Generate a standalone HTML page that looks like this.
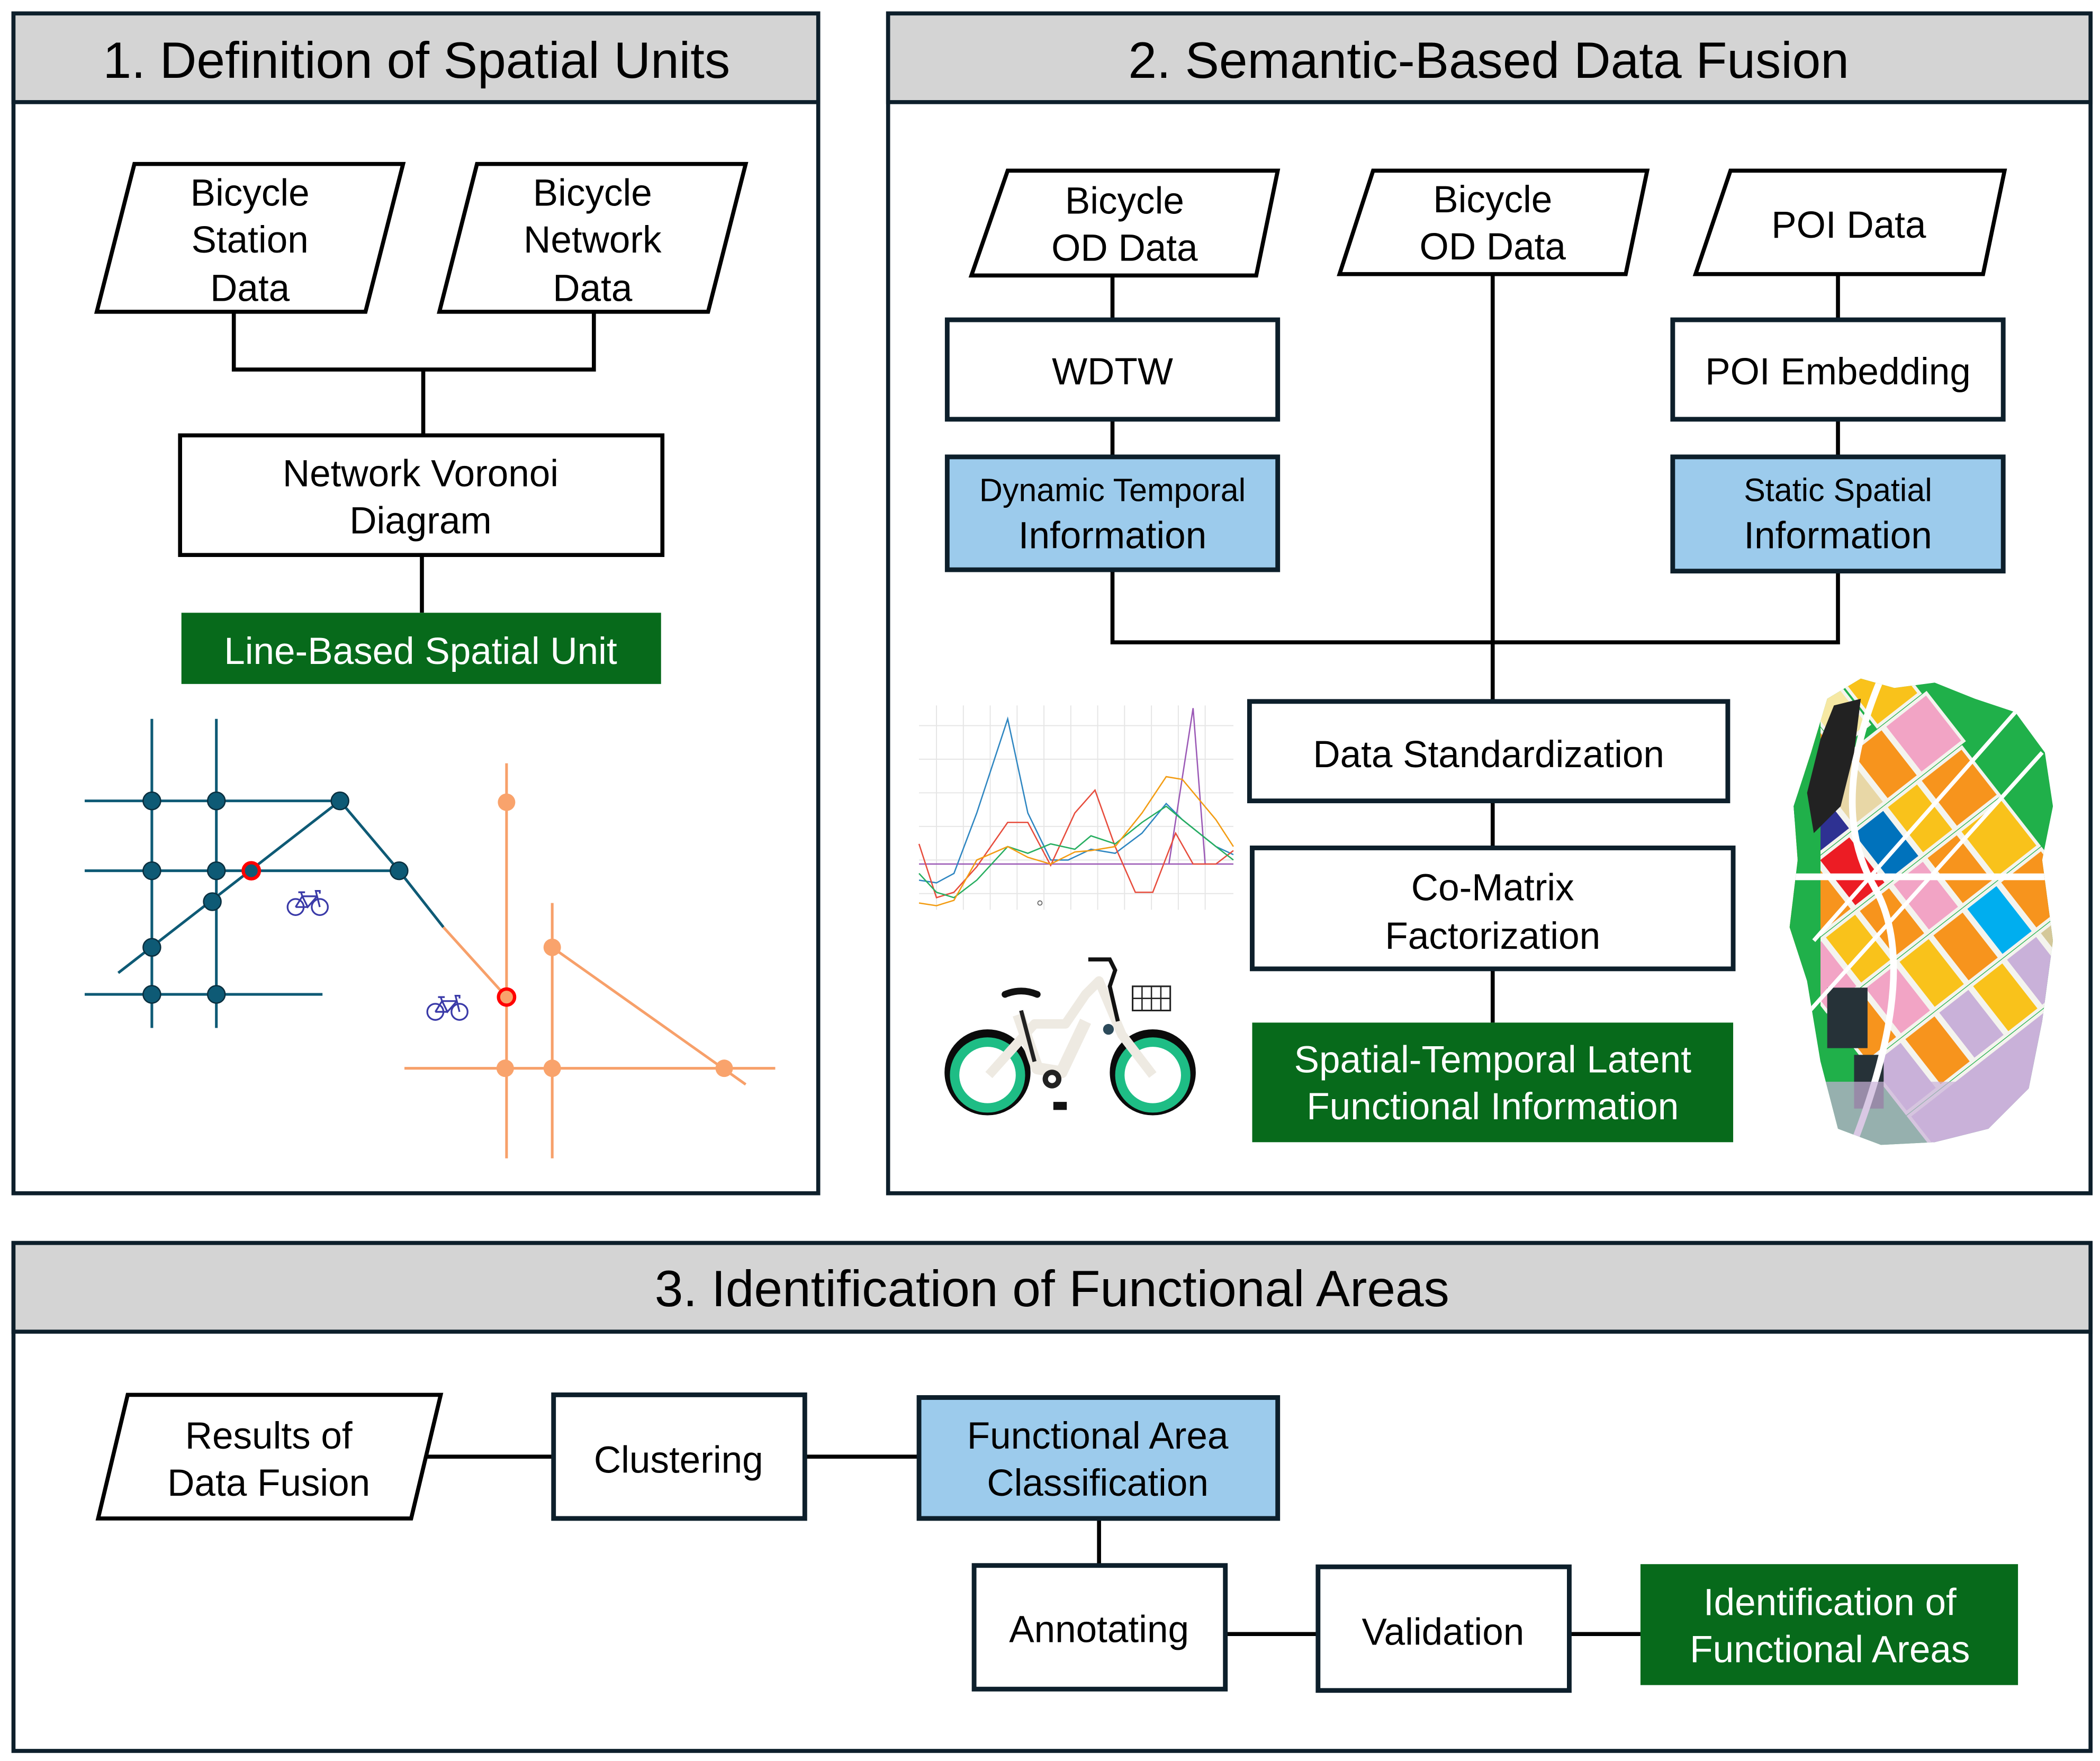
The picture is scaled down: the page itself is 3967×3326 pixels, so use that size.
<!DOCTYPE html>
<html><head><meta charset="utf-8"><style>
html,body{margin:0;padding:0;background:#fff;}
svg{display:block;}
text{font-family:"Liberation Sans","DejaVu Sans",sans-serif;fill:#000;}
</style></head><body>
<svg width="3967" height="3326" viewBox="0 0 1563 1310.5" xmlns="http://www.w3.org/2000/svg">
<defs>
<clipPath id="mapclip"><path d="M1360,520 L1385,505 L1410,512 L1440,508 L1470,520 L1500,530 L1522,560 L1528,600 L1520,640 L1528,700 L1520,760 L1510,810 L1480,840 L1440,850 L1400,852 L1368,840 L1355,790 L1345,730 L1332,690 L1338,640 L1335,600 L1348,560 Z"/></clipPath>
<g id="bk" fill="none" stroke="#3a3aa8" stroke-width="1.3">
<circle cx="-9" cy="4" r="6"/><circle cx="9" cy="4" r="6"/>
<path d="M-9,4 L-4,-4 L7,-4 L9,4 M-4,-4 L0,4 L7,-4 M0,4 L-9,4 M-4,-4 L-5,-7 M-7,-7 L-2,-7 M7,-4 L6,-8 L9,-8 L9,-6"/>
</g>
</defs>

<g stroke="#0d1f2b" stroke-width="3">
<rect x="10" y="10" width="599" height="878" fill="#fff"/>
<rect x="10" y="10" width="599" height="66" fill="#d4d4d4"/>
<rect x="661" y="10" width="895" height="878" fill="#fff"/>
<rect x="661" y="10" width="895" height="66" fill="#d4d4d4"/>
<rect x="10" y="925" width="1546" height="378" fill="#fff"/>
<rect x="10" y="925" width="1546" height="66" fill="#d4d4d4"/>
</g>
<g font-size="38" text-anchor="middle">
<text x="310" y="58">1. Definition of Spatial Units</text>
<text x="1108" y="58">2. Semantic-Based Data Fusion</text>
<text x="783" y="972">3. Identification of Functional Areas</text>
</g>

<g stroke="#000" stroke-width="3" fill="none">
<polygon points="100,122 300,122 272,232 72,232" fill="#fff"/>
<polygon points="355,122 555,122 527,232 327,232" fill="#fff"/>
<polyline points="174,232 174,275 442,275 442,232"/>
<line x1="315" y1="275" x2="315" y2="324"/>
<rect x="134" y="324" width="359" height="89" fill="#fff"/>
<line x1="314" y1="413" x2="314" y2="456"/>
</g>
<rect x="135" y="456" width="357" height="53" fill="#076a1b"/>
<g font-size="28" text-anchor="middle">
<text x="186" y="153">Bicycle</text><text x="186" y="188">Station</text><text x="186" y="224">Data</text>
<text x="441" y="153">Bicycle</text><text x="441" y="188">Network</text><text x="441" y="224">Data</text>
<text x="313" y="362">Network Voronoi</text><text x="313" y="397">Diagram</text>
<text x="313" y="494" style="fill:#fff">Line-Based Spatial Unit</text>
</g>

<g stroke="#0e5a75" stroke-width="2" fill="none">
<line x1="63" y1="596" x2="253" y2="596"/>
<line x1="63" y1="648" x2="297" y2="648"/>
<line x1="63" y1="740" x2="240" y2="740"/>
<line x1="113" y1="535" x2="113" y2="765"/>
<line x1="161" y1="535" x2="161" y2="765"/>
<line x1="88" y1="724" x2="253" y2="596"/>
<polyline points="253,596 297,648 330,690"/>
</g>
<g stroke="#f7a06a" stroke-width="2" fill="none">
<line x1="330" y1="690" x2="377" y2="742"/>
<line x1="377" y1="568" x2="377" y2="862"/>
<line x1="411" y1="672" x2="411" y2="862"/>
<line x1="301" y1="795" x2="577" y2="795"/>
<line x1="411" y1="705" x2="555" y2="807"/>
</g>
<g fill="#0e5a75" stroke="#0a2f3f" stroke-width="1">
<circle cx="113" cy="596" r="6.5"/><circle cx="161" cy="596" r="6.5"/><circle cx="253" cy="596" r="6.5"/>
<circle cx="113" cy="648" r="6.5"/><circle cx="161" cy="648" r="6.5"/><circle cx="297" cy="648" r="6.5"/>
<circle cx="158" cy="671" r="6.5"/><circle cx="113" cy="705" r="6.5"/>
<circle cx="113" cy="740" r="6.5"/><circle cx="161" cy="740" r="6.5"/>
</g>
<circle cx="187" cy="648" r="6" fill="#0e5a75" stroke="#ff0000" stroke-width="2.5"/>
<g fill="#f9a36c">
<circle cx="377" cy="597" r="6.5"/><circle cx="411" cy="705" r="6.5"/>
<circle cx="376" cy="795" r="6.5"/><circle cx="411" cy="795" r="6.5"/><circle cx="539" cy="795" r="6.5"/>
</g>
<circle cx="377" cy="742" r="6" fill="#f9a36c" stroke="#ff0000" stroke-width="2.5"/>
<use href="#bk" x="229" y="671"/>
<use href="#bk" x="333" y="749"/>

<g stroke="#000" stroke-width="3" fill="none">
<polygon points="750,127 951,127 935,205 723,205" fill="#fff"/>
<polygon points="1022,127 1226,127 1210,204 997,204" fill="#fff"/>
<polygon points="1288,127 1492,127 1476,204 1262,204" fill="#fff"/>
<line x1="828" y1="205" x2="828" y2="238"/>
<line x1="828" y1="312" x2="828" y2="340"/>
<line x1="1368" y1="204" x2="1368" y2="238"/>
<line x1="1368" y1="312" x2="1368" y2="340"/>
<polyline points="828,424 828,478 1368,478 1368,425"/>
<line x1="1111" y1="204" x2="1111" y2="522"/>
<line x1="1111" y1="596" x2="1111" y2="631"/>
<line x1="1111" y1="721" x2="1111" y2="761"/>
</g>
<g stroke="#0d1f2b" stroke-width="3.5">
<rect x="705" y="238" width="246" height="74" fill="#fff"/>
<rect x="1245" y="238" width="246" height="74" fill="#fff"/>
<rect x="705" y="340" width="246" height="84" fill="#9ccbec"/>
<rect x="1245" y="340" width="246" height="85" fill="#9ccbec"/>
<rect x="930" y="522" width="356" height="74" fill="#fff"/>
<rect x="932" y="631" width="358" height="90" fill="#fff"/>
</g>
<rect x="932" y="761" width="358" height="89" fill="#076a1b"/>
<g font-size="28" text-anchor="middle">
<text x="837" y="159">Bicycle</text><text x="837" y="194">OD Data</text>
<text x="1111" y="158">Bicycle</text><text x="1111" y="193">OD Data</text>
<text x="1376" y="177">POI Data</text>
<text x="828" y="286">WDTW</text>
<text x="1368" y="286">POI Embedding</text>
<text x="828" y="373" font-size="24">Dynamic Temporal</text><text x="828" y="408">Information</text>
<text x="1368" y="373" font-size="24">Static Spatial</text><text x="1368" y="408">Information</text>
<text x="1108" y="571">Data Standardization</text>
<text x="1111" y="670">Co-Matrix</text><text x="1111" y="706">Factorization</text>
<text x="1111" y="798" style="fill:#fff">Spatial-Temporal Latent</text>
<text x="1111" y="833" style="fill:#fff">Functional Information</text>
</g>

<g stroke="#e6e6e6" stroke-width="0.8">
<line x1="684" y1="540" x2="918" y2="540"/><line x1="684" y1="565" x2="918" y2="565"/>
<line x1="684" y1="590" x2="918" y2="590"/><line x1="684" y1="615" x2="918" y2="615"/>
<line x1="684" y1="640" x2="918" y2="640"/><line x1="684" y1="665" x2="918" y2="665"/>
<line x1="697" y1="525" x2="697" y2="677"/><line x1="717" y1="525" x2="717" y2="677"/>
<line x1="737" y1="525" x2="737" y2="677"/><line x1="757" y1="525" x2="757" y2="677"/>
<line x1="777" y1="525" x2="777" y2="677"/><line x1="797" y1="525" x2="797" y2="677"/>
<line x1="817" y1="525" x2="817" y2="677"/><line x1="837" y1="525" x2="837" y2="677"/>
<line x1="857" y1="525" x2="857" y2="677"/><line x1="877" y1="525" x2="877" y2="677"/>
<line x1="897" y1="525" x2="897" y2="677"/>
</g>
<g fill="none" stroke-width="1">
<polyline stroke="#9b59b6" points="684,643 918,643"/>
<polyline stroke="#9b59b6" points="870,643 888,527 897,643"/>
<polyline stroke="#2e86c1" points="684,655 697,657 710,650 727,605 750,535 765,605 782,640 795,640 812,632 830,635 850,620 868,598 880,610 905,630 918,636"/>
<polyline stroke="#e74c3c" points="684,628 697,668 710,664 727,645 750,612 765,612 782,644 800,605 815,588 830,630 845,664 858,664 875,620 888,643 905,643 918,633"/>
<polyline stroke="#27ae60" points="684,650 697,664 710,668 727,655 750,630 765,635 782,628 800,632 812,622 830,628 850,612 868,600 880,610 905,630 918,640"/>
<polyline stroke="#f39c12" points="684,672 697,674 710,670 727,640 750,630 765,638 782,643 800,634 812,633 830,630 850,605 868,578 880,580 905,610 918,630"/>
</g>
<circle cx="774" cy="672" r="1.6" fill="none" stroke="#666" stroke-width="0.7"/>

<g>
<circle cx="735" cy="798" r="32" fill="#0b0b0b"/><circle cx="735" cy="800" r="28" fill="#1ebd85"/><circle cx="735" cy="800" r="21" fill="#fff"/>
<circle cx="858" cy="798" r="32" fill="#0b0b0b"/><circle cx="858" cy="800" r="28" fill="#1ebd85"/><circle cx="858" cy="800" r="21" fill="#fff"/>
<path d="M736,800 L770,762 L793,762 L808,740 L818,730 L835,770 L858,800" fill="none" stroke="#eeeae2" stroke-width="7" stroke-linejoin="round"/>
<path d="M758,755 L772,795 L790,798 L808,760" fill="none" stroke="#eeeae2" stroke-width="9" stroke-linejoin="round"/>
<path d="M760,752 L770,790" stroke="#222" stroke-width="3"/>
<path d="M748,740 Q760,735 772,740" stroke="#111" stroke-width="5" fill="none" stroke-linecap="round"/>
<path d="M810,714 L826,714 L830,722 L826,734 L832,760" stroke="#111" stroke-width="3" fill="none"/>
<rect x="843" y="734" width="28" height="18" fill="none" stroke="#222" stroke-width="1.2"/>
<path d="M850,734 V752 M857,734 V752 M864,734 V752 M843,743 H871" stroke="#222" stroke-width="1"/>
<circle cx="783" cy="803" r="7" fill="#222"/><circle cx="783" cy="803" r="3" fill="#fff"/>
<rect x="784" y="820" width="10" height="6" fill="#111"/>
<circle cx="825" cy="766" r="4" fill="#2c4a5a"/>
</g>

<g clip-path="url(#mapclip)">
<rect x="1325" y="500" width="210" height="360" fill="#20b04a"/>
<g transform="rotate(-38 1430 680)" stroke="#f4f4ee" stroke-width="2.5">
<rect x="1330" y="500" width="28" height="50" fill="#f9c21b"/><rect x="1360" y="500" width="30" height="45" fill="#f7941d"/>
<rect x="1392" y="505" width="30" height="40" fill="#f9c21b"/><rect x="1425" y="500" width="30" height="48" fill="#f7941d"/>
<rect x="1458" y="505" width="28" height="40" fill="#f6e8a3"/><rect x="1490" y="500" width="40" height="50" fill="#f9c21b"/>
<rect x="1330" y="553" width="30" height="45" fill="#f7941d"/><rect x="1362" y="553" width="34" height="45" fill="#f9c21b"/>
<rect x="1398" y="553" width="30" height="45" fill="#2e3192"/><rect x="1430" y="553" width="30" height="45" fill="#e8d7a6"/>
<rect x="1462" y="553" width="30" height="45" fill="#f7941d"/><rect x="1494" y="553" width="40" height="45" fill="#f2a4c5"/>
<rect x="1330" y="601" width="30" height="45" fill="#f9c21b"/><rect x="1362" y="601" width="30" height="45" fill="#f7941d"/>
<rect x="1394" y="601" width="30" height="45" fill="#ec1c24"/><rect x="1426" y="601" width="30" height="45" fill="#0072bc"/>
<rect x="1458" y="601" width="30" height="45" fill="#f9c21b"/><rect x="1490" y="601" width="40" height="45" fill="#f7941d"/>
<rect x="1330" y="649" width="30" height="45" fill="#f2a4c5"/><rect x="1362" y="649" width="30" height="45" fill="#f9c21b"/>
<rect x="1394" y="649" width="30" height="45" fill="#f7941d"/><rect x="1426" y="649" width="30" height="45" fill="#f2a4c5"/>
<rect x="1458" y="649" width="30" height="45" fill="#f7941d"/><rect x="1490" y="649" width="40" height="45" fill="#f9c21b"/>
<rect x="1330" y="697" width="30" height="45" fill="#f7941d"/><rect x="1362" y="697" width="30" height="45" fill="#f2a4c5"/>
<rect x="1394" y="697" width="30" height="45" fill="#f9c21b"/><rect x="1426" y="697" width="30" height="45" fill="#f7941d"/>
<rect x="1458" y="697" width="30" height="45" fill="#00aeef"/><rect x="1490" y="697" width="40" height="45" fill="#f7941d"/>
<rect x="1330" y="745" width="30" height="45" fill="#c9b1d9"/><rect x="1362" y="745" width="30" height="45" fill="#f7941d"/>
<rect x="1394" y="745" width="30" height="45" fill="#c9b1d9"/><rect x="1426" y="745" width="30" height="45" fill="#f9c21b"/>
<rect x="1458" y="745" width="30" height="45" fill="#c9b1d9"/><rect x="1490" y="745" width="40" height="45" fill="#d4c89a"/>
<rect x="1330" y="793" width="200" height="80" fill="#c9b1d9"/>
</g>
<rect x="1325" y="500" width="30" height="360" fill="#20b04a"/>
<path d="M1365,525 L1385,520 L1380,560 L1370,600 L1350,620 L1345,590 L1355,550 Z" fill="#222"/>
<rect x="1360" y="735" width="30" height="45" fill="#263238"/>
<rect x="1380" y="785" width="22" height="40" fill="#263238"/>
<rect x="1330" y="650" width="200" height="5" fill="#fff"/>
<path d="M1400,505 Q1360,600 1395,660 Q1430,720 1380,850" stroke="#fff" stroke-width="5" fill="none"/>
<path d="M1340,760 L1520,560 M1350,700 L1500,530" stroke="#fff" stroke-width="3" fill="none"/>
<rect x="1330" y="805" width="200" height="60" fill="#c9b1d9" opacity="0.7"/>
</g>

<g stroke="#000" stroke-width="3" fill="none">
<polygon points="95,1038 328,1038 306,1130 73,1130" fill="#fff"/>
<line x1="316" y1="1084" x2="412" y2="1084"/>
<line x1="599" y1="1084" x2="684" y2="1084"/>
<line x1="818" y1="1130" x2="818" y2="1165"/>
<line x1="912" y1="1216" x2="981" y2="1216"/>
<line x1="1168" y1="1216" x2="1221" y2="1216"/>
</g>
<g stroke="#0d1f2b" stroke-width="3.5">
<rect x="412" y="1038" width="187" height="92" fill="#fff"/>
<rect x="684" y="1040" width="267" height="90" fill="#9ccbec"/>
<rect x="725" y="1165" width="187" height="92" fill="#fff"/>
<rect x="981" y="1166" width="187" height="92" fill="#fff"/>
</g>
<rect x="1221" y="1164" width="281" height="90" fill="#076a1b"/>
<g font-size="28" text-anchor="middle">
<text x="200" y="1078">Results of</text><text x="200" y="1113">Data Fusion</text>
<text x="505" y="1096">Clustering</text>
<text x="817" y="1078">Functional Area</text><text x="817" y="1113">Classification</text>
<text x="818" y="1222">Annotating</text>
<text x="1074" y="1224">Validation</text>
<text x="1362" y="1202" style="fill:#fff">Identification of</text>
<text x="1362" y="1237" style="fill:#fff">Functional Areas</text>
</g>
</svg>
</body></html>
